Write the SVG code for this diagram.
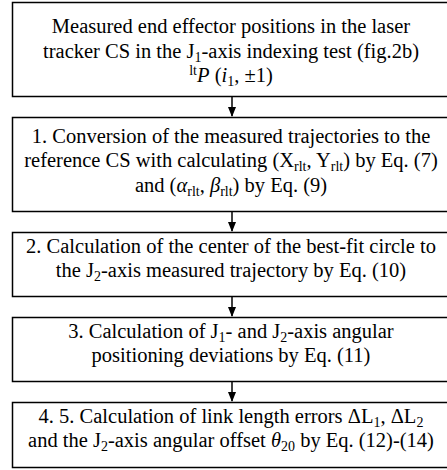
<svg xmlns="http://www.w3.org/2000/svg" width="447" height="470" viewBox="0 0 447 470">
<style>
.box{fill:#fff;stroke:#000;stroke-width:1.5}
.t{font-family:"Liberation Serif","Times New Roman",serif;font-size:20.5px;fill:#000;text-anchor:middle}
.m{font-style:italic}
.s{font-size:14px}
.c{stroke:#000;stroke-width:1.5;fill:none}
</style>
<defs>
<marker id="ah" markerWidth="10" markerHeight="8" refX="9" refY="4" orient="auto" markerUnits="userSpaceOnUse">
<path d="M0,0 L10,4 L0,8 Z" fill="#000"/>
</marker>
</defs>
<rect width="447" height="470" fill="#fff"/>
<g id="connectors">
<line class="c" x1="232" y1="96" x2="232" y2="116" marker-end="url(#ah)"/>
<line class="c" x1="232" y1="211" x2="232" y2="231" marker-end="url(#ah)"/>
<line class="c" x1="232" y1="296" x2="232" y2="316" marker-end="url(#ah)"/>
<line class="c" x1="232" y1="381" x2="232" y2="401" marker-end="url(#ah)"/>
</g>
<g id="n0">
<rect class="box" x="12.5" y="2.5" width="440" height="94"/>
<text class="t" x="231" y="33">Measured end effector positions in the laser</text>
<text class="t" x="231" y="58">tracker CS in the J<tspan class="s" dy="4">1</tspan><tspan dy="-4">-axis indexing test (fig.2b)</tspan></text>
<text class="t" x="231" y="82"><tspan class="s" dy="-7">lt</tspan><tspan class="m" dy="7">P</tspan> (<tspan class="m">i</tspan><tspan class="s" dy="4">1</tspan><tspan dy="-4">, ±1)</tspan></text>
</g>
<g id="n1">
<rect class="box" x="12.5" y="117.5" width="440" height="94"/>
<text class="t" x="231" y="143">1. Conversion of the measured trajectories to the</text>
<text class="t" x="231" y="167">reference CS with calculating (X<tspan class="s" dy="4">rlt</tspan><tspan dy="-4">, Y</tspan><tspan class="s" dy="4">rlt</tspan><tspan dy="-4">) by Eq. (7)</tspan></text>
<text class="t" x="231" y="192">and (<tspan class="m">α</tspan><tspan class="s" dy="4">rlt</tspan><tspan dy="-4">, </tspan><tspan class="m">β</tspan><tspan class="s" dy="4">rlt</tspan><tspan dy="-4">) by Eq. (9)</tspan></text>
</g>
<g id="n2">
<rect class="box" x="12.5" y="232.5" width="440" height="64"/>
<text class="t" x="231" y="253">2. Calculation of the center of the best-fit circle to</text>
<text class="t" x="231" y="277">the J<tspan class="s" dy="4">2</tspan><tspan dy="-4">-axis measured trajectory by Eq. (10)</tspan></text>
</g>
<g id="n3">
<rect class="box" x="12.5" y="317.5" width="440" height="64"/>
<text class="t" x="231" y="338">3. Calculation of J<tspan class="s" dy="4">1</tspan><tspan dy="-4">- and J</tspan><tspan class="s" dy="4">2</tspan><tspan dy="-4">-axis angular</tspan></text>
<text class="t" x="231" y="362">positioning deviations by Eq. (11)</text>
</g>
<g id="n4">
<rect class="box" x="12.5" y="402.5" width="440" height="65"/>
<text class="t" x="231" y="423">4. 5. Calculation of link length errors ΔL<tspan class="s" dy="4">1</tspan><tspan dy="-4">, ΔL</tspan><tspan class="s" dy="4">2</tspan></text>
<text class="t" x="231" y="447">and the J<tspan class="s" dy="4">2</tspan><tspan dy="-4">-axis angular offset </tspan><tspan class="m">θ</tspan><tspan class="s" dy="4">20</tspan><tspan dy="-4"> by Eq. (12)-(14)</tspan></text>
</g>
</svg>
